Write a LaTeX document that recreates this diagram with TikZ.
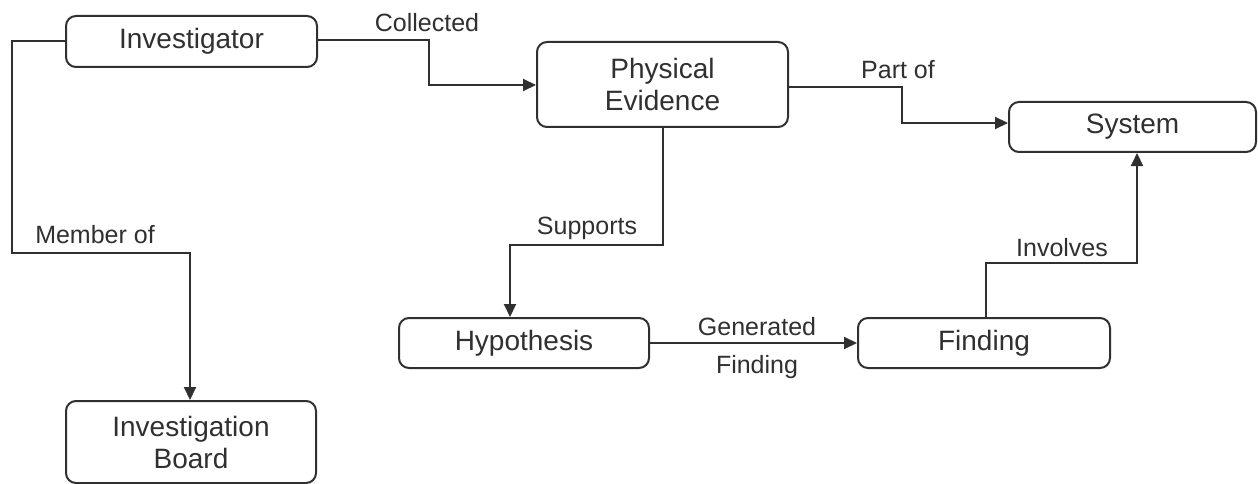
\documentclass[tikz,border=0pt]{standalone}
\usepackage{fontspec}
\setmainfont{Liberation Sans}
\usetikzlibrary{arrows.meta}
\definecolor{ink}{HTML}{303030}
\begin{document}
\begin{tikzpicture}[x=1pt,y=-1pt,
  box/.style={draw=ink, line width=2pt, rounded corners=10pt, fill=white,
    text=ink, align=center, inner sep=0pt, minimum width=251pt,
    font=\fontsize{28}{32}\selectfont},
  conn/.style={draw=ink, line width=2pt, -{Triangle[length=13pt,width=12pt]}},
  lbl/.style={text=ink, inner sep=0pt, font=\fontsize{25}{30}\selectfont}]
\fill[white] (0,0) rectangle (1258,484);
\useasboundingbox (0,0) rectangle (1258,484);

\node[box, minimum height=51pt] (inv) at (191.5,41.5) {Investigator};
\node[box, minimum height=85pt] (pe) at (662.5,84.5) {Physical\\Evidence};
\node[box, minimum width=247pt, minimum height=50pt] (sys) at (1132.5,127) {System};
\node[box, minimum width=250pt, minimum height=50pt] (hyp) at (524,343) {Hypothesis};
\node[box, minimum width=252pt, minimum height=50pt] (fin) at (984,343) {Finding};
\node[box, minimum width=250pt, minimum height=82pt] (ib) at (191,442) {Investigation\\Board};

\coordinate (m1) at (12,253);
\coordinate (m2) at (190,253);
\coordinate (c1) at (429,40);
\coordinate (c2) at (429,85);
\coordinate (p1) at (902,87);
\coordinate (p2) at (902,123);
\coordinate (s1) at (663,245);
\coordinate (s2) at (510,245);
\coordinate (i1) at (986,263);
\coordinate (i2) at (1137,263);

\draw[conn] (inv.west) -| (m1) -- (m2) -- (ib.north -| m2);
\draw[conn] (inv.east |- c1) -- (c1) -- (c2) -- (pe.west |- c2);
\draw[conn] (pe.east |- p1) -- (p1) -- (p2) -- (sys.west |- p2);
\draw[conn] (pe.south -| s1) -- (s1) -- (s2) -- (hyp.north -| s2);
\draw[conn] (hyp.east) -- (fin.west);
\draw[conn] (fin.north -| i1) -- (i1) -- (i2) -- (sys.south -| i2);

\node[lbl] (lmem) at (95,235) {Member of};
\node[lbl] (lcol) at (427,23) {Collected};
\node[lbl] (lpart) at (898,70) {Part of};
\node[lbl] (lsup) at (587,228) {Supports};
\node[lbl] (lgen) at (757,327) {Generated};
\node[lbl] (lfin) at (757,367) {Finding};
\node[lbl] (linv) at (1062,248) {Involves};
\end{tikzpicture}
\end{document}
